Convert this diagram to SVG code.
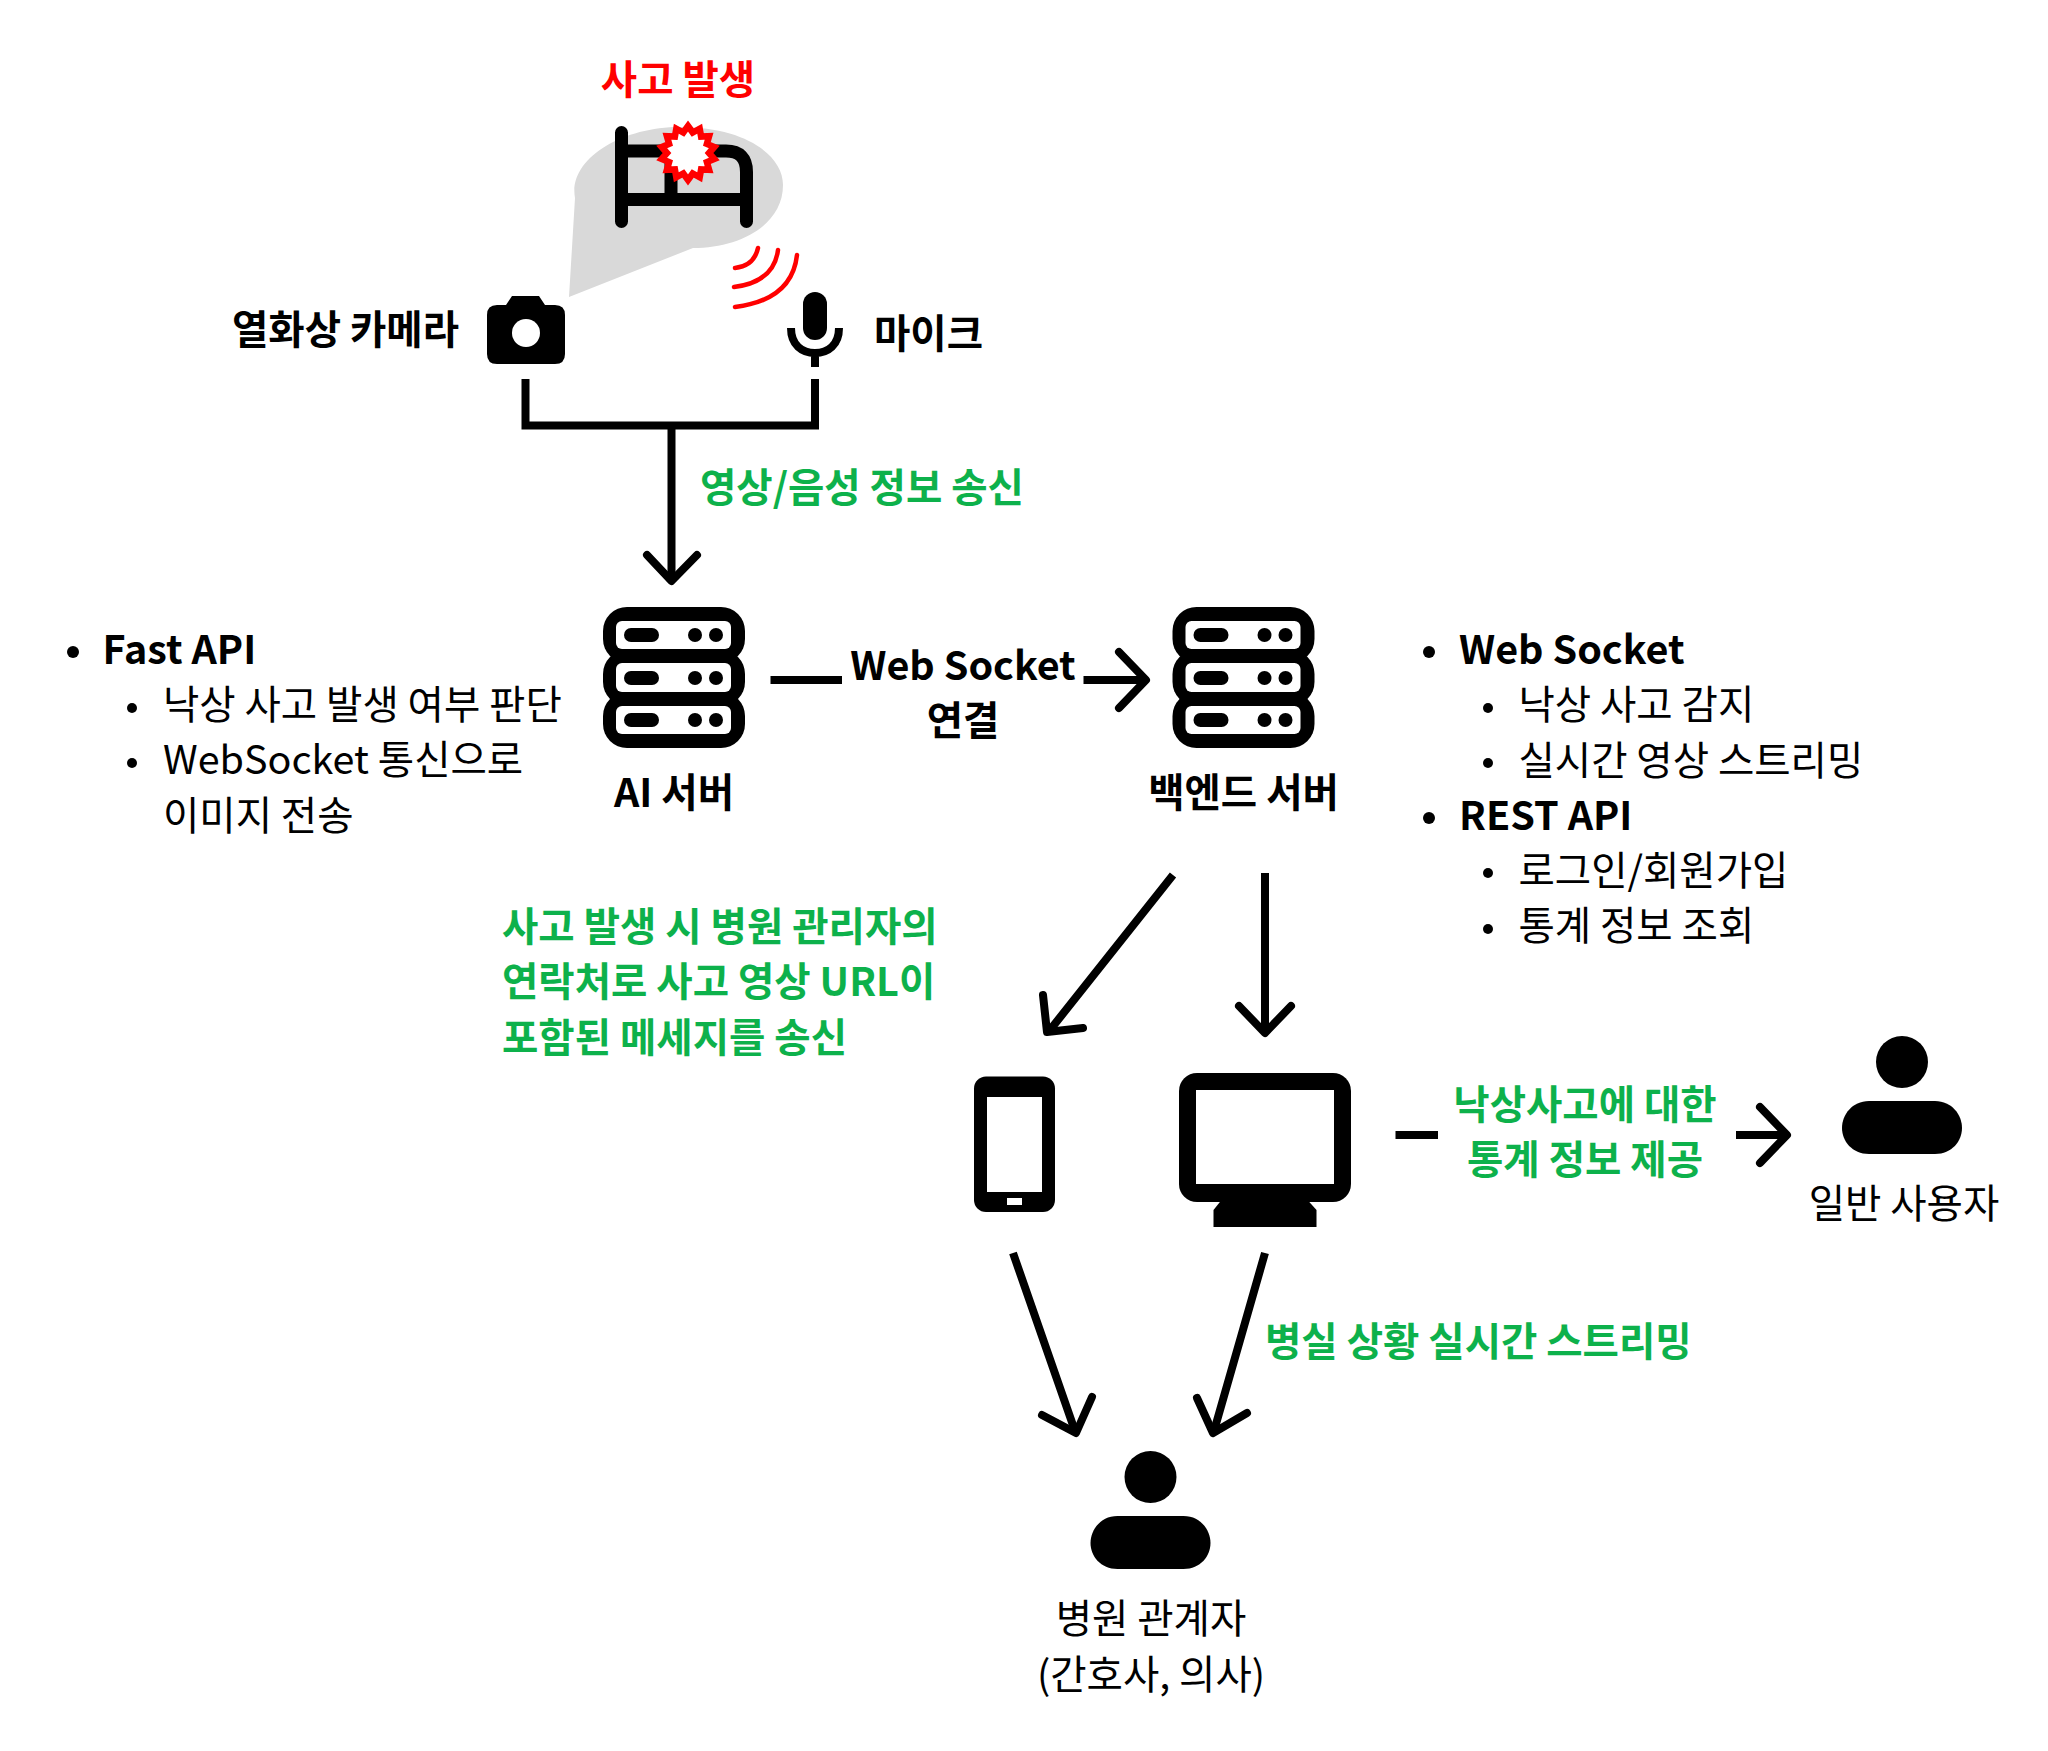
<svg xmlns="http://www.w3.org/2000/svg" xmlns:xlink="http://www.w3.org/1999/xlink" width="2048" height="1751" viewBox="0 0 2048 1751">
<style>
text{font-family:"Noto Sans CJK KR","Noto Sans",sans-serif;font-size:39.500px;fill:#000}
.b{font-weight:700}
.g{fill:#0db14b;font-weight:700}
.r{fill:#f00;font-weight:700}
.m{text-anchor:middle}
.ln{fill:none;stroke:#000;stroke-width:8}
.hd{fill:none;stroke:#000;stroke-width:8;stroke-linecap:round;stroke-linejoin:round}
</style>
<defs>
<g id="server">
<rect x="0" y="0" width="142" height="56" rx="24"/><rect x="0" y="43" width="142" height="56" rx="24"/><rect x="0" y="85" width="142" height="56" rx="24"/>
<g fill="#fff"><rect x="13" y="14" width="115" height="28" rx="6"/><rect x="13" y="56" width="115" height="29" rx="6"/><rect x="13" y="99" width="115" height="28" rx="6"/></g>
<rect x="21" y="21" width="35" height="14" rx="7"/><rect x="21" y="64" width="35" height="14" rx="7"/><rect x="21" y="106" width="35" height="14" rx="7"/>
<circle cx="92" cy="28" r="7"/><circle cx="113" cy="28" r="7"/><circle cx="92" cy="71" r="7"/><circle cx="113" cy="71" r="7"/><circle cx="92" cy="113" r="7"/><circle cx="113" cy="113" r="7"/>
</g>
<g id="person">
<circle cx="0" cy="0" r="26"/>
<path d="M-33 39H33C50 39 60 53 60 66C60 79 50 92 33 92H-33C-50 92 -60 79 -60 66C-60 53 -50 39 -33 39Z"/>
</g>
</defs>

<g id="bed-scene">
<path fill="#d9d9d9" d="M569 297L575 198C568 160 620 127 680 127C745 127 783 155 783 185C783 225 740 248 693 248Z"/>
<path fill="none" stroke="#000" stroke-width="13" stroke-linecap="round" d="M621.500 132.500V221.500M621.500 151H726Q746.500 151 746.500 172V221.500M621.500 199.500H746.500M671 151V199"/>
<polygon transform="translate(688 153)" fill="#fff" stroke="#f00" stroke-width="6.500" points="0,-27 4.700,-20.500 11.700,-24.300 13.100,-16.400 21.100,-16.800 18.900,-9.100 26.300,-6 21,0 26.300,6 18.900,9.100 21.100,16.800 13.100,16.400 11.700,24.300 4.700,20.500 0,27 -4.700,20.500 -11.700,24.300 -13.100,16.400 -21.100,16.800 -18.900,9.100 -26.300,6 -21,0 -26.300,-6 -18.900,-9.100 -21.100,-16.800 -13.100,-16.400 -11.700,-24.300 -4.700,-20.500"/>
<path fill="none" stroke="#f00" stroke-width="4.500" stroke-linecap="round" d="M735 268Q754 266 758 248M734 287Q774 282 778 250M735 307Q792 300 797 255"/>
<text id="t-accident" x="678" y="94" class="r m">사고 발생</text>
</g>

<g id="camera">
<path d="M487 315Q487 305 497 305H506L512 296H539L545 305H555Q565 305 565 315V354Q565 364 555 364H497Q487 364 487 354Z"/>
<circle cx="526" cy="333" r="14" fill="#fff"/>
<text x="232" y="344" class="b">열화상 카메라</text>
</g>

<g id="mic">
<rect x="803" y="292" width="24" height="48" rx="12"/>
<path class="ln" d="M791 328C791 345 802 353 815 353C828 353 839 345 839 328M815 353V367"/>
<text x="874" y="348" class="b">마이크</text>
</g>

<g id="ai-server">
<use xlink:href="#server" href="#server" x="603" y="607"/>
<text x="674" y="806.500" class="b m">AI 서버</text>
</g>
<g id="ai-notes">
<circle cx="73" cy="652" r="6"/><text x="102.500" y="664" class="b">Fast API</text>
<circle cx="132" cy="708" r="5"/><text x="163" y="718.500">낙상 사고 발생 여부 판단</text>
<circle cx="132" cy="763" r="5"/><text x="163" y="774">WebSocket 통신으로</text>
<text x="163" y="829.500">이미지 전송</text>
</g>

<g id="backend-server">
<use xlink:href="#server" href="#server" x="1172.500" y="607"/>
<text x="1243.500" y="806.500" class="b m">백엔드 서버</text>
</g>
<g id="backend-notes">
<circle cx="1429" cy="652" r="6"/><text x="1459" y="664" class="b">Web Socket</text>
<circle cx="1488" cy="708" r="5"/><text x="1518.500" y="718.500">낙상 사고 감지</text>
<circle cx="1488" cy="763" r="5"/><text x="1518.500" y="774.500">실시간 영상 스트리밍</text>
<circle cx="1429" cy="818" r="6"/><text x="1459" y="829.500" class="b">REST API</text>
<circle cx="1488" cy="873" r="5"/><text x="1518.500" y="885">로그인/회원가입</text>
<circle cx="1488" cy="929" r="5"/><text x="1518.500" y="940">통계 정보 조회</text>
</g>

<g id="phone">
<rect x="974" y="1076.500" width="81" height="135.500" rx="12"/>
<rect x="987" y="1097" width="55" height="95" fill="#fff"/>
<rect x="1007" y="1198" width="15" height="7" fill="#fff"/>
</g>

<g id="monitor">
<path d="M1221.500 1200L1213.500 1210V1227H1316.500V1210L1307.500 1200Z"/>
<rect x="1179" y="1073" width="172" height="129" rx="18"/>
<rect x="1196" y="1090" width="138" height="94" fill="#fff"/>
</g>

<g id="general-user">
<use xlink:href="#person" href="#person" x="1902" y="1062"/>
<text x="1904" y="1217.500" class="m">일반 사용자</text>
</g>
<g id="hospital-staff">
<use xlink:href="#person" href="#person" x="1150.500" y="1477"/>
<text x="1151" y="1633" class="m">병원 관계자</text>
<text x="1151" y="1688.500" class="m">(간호사, 의사)</text>
</g>

<g id="connectors">
<path class="ln" d="M525.500 379V425.500H815V379M671.500 425.500V580"/>
<path class="hd" d="M647 555L671.500 581L697 555"/>
<path class="ln" d="M770.500 680H842M1083.500 680H1144"/>
<path class="hd" d="M1119 652L1146 680L1119 708"/>
<path class="ln" d="M1173 875L1050 1030M1265 873V1031"/>
<path class="hd" d="M1043 995L1047 1032L1083 1028M1239 1006L1265 1033L1291 1006"/>
<path class="ln" d="M1395.500 1135H1438M1736 1135H1785"/>
<path class="hd" d="M1760 1107L1787 1135L1760 1163"/>
<path class="ln" d="M1013 1253L1075 1431M1265 1253L1214 1431"/>
<path class="hd" d="M1042 1415L1076 1433L1092 1397M1197 1398L1213 1433L1247 1413"/>
</g>

<g id="labels">
<text x="700" y="502" class="g">영상/음성 정보 송신</text>
<text x="963" y="680" class="b m">Web Socket</text>
<text x="963" y="735" class="b m">연결</text>
<text x="502" y="940.500" class="g">사고 발생 시 병원 관리자의</text>
<text x="502" y="996" class="g">연락처로 사고 영상 URL이</text>
<text x="502" y="1051.500" class="g">포함된 메세지를 송신</text>
<text x="1585" y="1119" class="g m">낙상사고에 대한</text>
<text x="1585" y="1173.500" class="g m">통계 정보 제공</text>
<text x="1265" y="1356" class="g">병실 상황 실시간 스트리밍</text>
</g>
</svg>
